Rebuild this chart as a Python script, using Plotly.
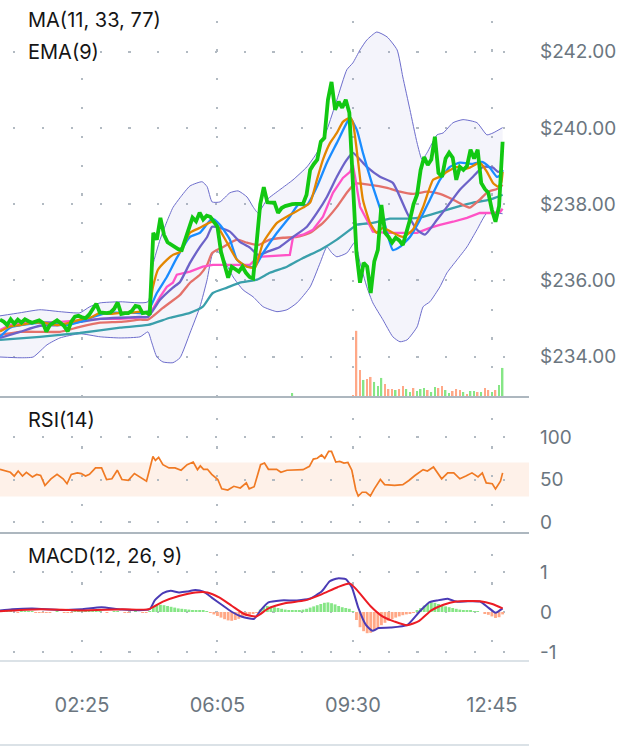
import plotly.graph_objects as go

# ------------------------------------------------------------------ data
time_ticks = [23, 61, 99, 138]
time_labels = ["02:25", "06:05", "09:30", "12:45"]
price_ticks = [234, 236, 238, 240, 242]

# close price, one value per bar (bars 0..141)
close = [
    234.97, 234.92, 234.83, 234.98, 234.86, 234.97, 234.89, 234.98, 234.93, 234.89,
    234.92, 234.95, 234.89, 234.66, 234.83, 234.90, 234.95, 234.88, 234.80, 234.66,
    234.92, 235.05, 235.07, 235.03, 235.01, 235.10, 235.27, 235.39, 235.16, 235.15,
    235.14, 235.16, 235.25, 235.42, 235.12, 235.14, 235.14, 235.20, 235.33, 235.31,
    235.14, 235.16, 235.10, 237.25, 237.07, 237.64, 237.20, 237.00, 236.93, 236.88,
    236.82, 236.80, 237.10, 237.41, 237.65, 237.55, 237.78, 237.60, 237.70, 237.67,
    237.55, 237.41, 236.75, 236.40, 236.07, 236.36, 236.30, 236.23, 236.36, 236.20,
    236.09, 236.05, 237.00, 238.00, 238.45, 238.05, 238.04, 238.04, 237.77, 237.90,
    237.95, 237.98, 238.00, 238.01, 238.01, 238.01, 238.25, 238.90, 239.05, 239.17,
    239.64, 239.74, 240.74, 241.21, 240.48, 240.69, 240.53, 240.74, 240.40, 238.60,
    236.72, 235.94, 236.46, 236.36, 235.67, 236.50, 236.80, 237.98, 237.25, 237.14,
    236.99, 237.12, 237.05, 236.93, 237.25, 237.59, 238.00, 238.25, 238.90, 239.24,
    239.03, 239.17, 239.77, 238.82, 238.72, 239.20, 239.35, 239.22, 238.64, 238.98,
    238.90, 239.00, 239.43, 239.20, 239.43, 238.56, 238.40, 238.30, 237.85, 237.54,
    237.95, 239.64,
]

# EMA(9) - orange
ema9_bar = [0, 2.8, 5.6, 9.3, 12.1, 16.0, 19.6, 22.4, 25.2, 28.1, 30.9, 33.7, 36.5, 39.3, 41.5,
            42.9, 44.3, 46.8, 48.5, 50.5, 53.3, 56.1, 59.5, 61.1, 63.7, 66.5, 69.3, 71.5, 73.8, 77.7,
            81.3, 85.0, 87.0, 88.9, 90.6, 92.6, 94.5, 96.2, 98.2, 99.0, 100.4, 101.8, 103.8, 105.7,
            107.4, 110.2, 113.0, 115.8, 118.7, 121.5, 123.4, 125.4, 128.2, 129.9, 131.8, 134.6, 136.6,
            138.3, 139.7, 140.6, 141.0]
ema9 = [234.66, 234.79, 234.83, 234.89, 234.89, 234.83, 234.89, 234.97, 235.02, 235.15, 235.12,
        235.15, 235.15, 235.18, 235.15, 235.83, 236.28, 236.54, 236.67, 236.75, 237.25, 237.38,
        237.54, 237.41, 236.99, 236.54, 236.36, 236.33, 236.99, 237.51, 237.72, 237.91, 238.04,
        238.64, 239.17, 239.61, 239.87, 240.16, 240.27, 240.14, 239.17, 238.12, 237.51, 237.25,
        237.38, 237.25, 237.14, 237.33, 237.93, 238.64, 238.72, 238.85, 238.98, 238.93, 238.96,
        239.09, 238.85, 238.56, 238.46, 238.56, 238.85]

# MA(11) - blue
ma11_bar = [0, 2.8, 8.4, 13.2, 18.8, 22.4, 26.1, 30.0, 33.7, 37.3, 41.2, 44.0, 46.8, 49.6, 53.3,
            56.1, 59.5, 61.7, 64.5, 66.5, 69.3, 71.5, 73.8, 77.7, 81.3, 83.6, 86.1, 88.9, 91.7, 94.5,
            97.3, 98.2, 100.1, 101.8, 104.6, 107.4, 110.2, 112.2, 115.0, 117.8, 120.6, 123.4, 126.2,
            129.0, 132.7, 135.2, 137.4, 139.4, 140.6, 141.0]
ma11 = [234.52, 234.76, 234.86, 234.89, 234.83, 234.91, 235.04, 235.15, 235.15, 235.15, 235.15,
        235.67, 236.09, 236.59, 237.14, 237.25, 237.62, 237.46, 237.07, 236.54, 236.36, 236.36,
        236.72, 237.25, 237.67, 237.98, 237.98, 238.46, 239.09, 239.61, 240.14, 240.27, 239.95,
        239.35, 238.46, 237.67, 236.80, 236.88, 237.14, 237.59, 238.12, 238.64, 238.98, 239.09,
        239.06, 239.11, 238.96, 238.72, 238.77, 238.90]

# MA(33) - slate purple
ma33_bar = [0, 5.6, 11.2, 16.8, 22.4, 28.1, 33.7, 39.3, 41.5, 44.9, 48.5, 50.5, 53.3, 56.1, 58.1,
            59.5, 61.7, 64.5, 67.3, 70.1, 72.4, 74.9, 78.5, 82.2, 86.1, 88.9, 91.7, 94.5, 97.3, 99.0,
            102.9, 106.6, 110.2, 114.2, 117.0, 119.2, 122.6, 125.4, 129.0, 132.7, 135.5, 138.3, 139.7,
            141.0]
ma33 = [234.49, 234.65, 234.81, 234.83, 234.91, 234.99, 235.02, 235.04, 235.04, 235.49, 235.81,
        235.96, 236.46, 236.88, 237.14, 237.41, 237.38, 237.28, 237.01, 236.86, 236.67, 236.75,
        236.88, 237.14, 237.41, 237.77, 238.19, 238.72, 239.17, 239.35, 238.98, 238.72, 238.56,
        237.77, 237.33, 237.20, 237.59, 237.93, 238.38, 238.72, 238.98, 238.96, 238.85, 238.90]

# salmon average
avg_red_bar = [0, 5.6, 11.2, 16.8, 22.4, 28.1, 33.7, 39.3, 41.5, 45.7, 50.5, 53.3, 56.1, 58.1, 59.5,
               62.6, 66.5, 69.3, 72.4, 75.7, 79.4, 83.3, 87.0, 90.6, 94.5, 97.3, 99.6, 103.8, 108.6,
               112.2, 115.8, 119.8, 123.4, 127.1, 129.9, 131.8, 134.6, 136.9, 139.4, 141.0]
avg_red = [234.57, 234.65, 234.65, 234.65, 234.78, 234.89, 234.91, 234.97, 234.97, 235.28, 235.62,
           235.94, 236.15, 236.41, 236.72, 236.88, 237.07, 236.99, 236.93, 237.07, 237.12, 237.14,
           237.25, 237.51, 237.93, 238.30, 238.54, 238.51, 238.43, 238.33, 238.27, 238.33, 238.27,
           238.12, 237.98, 237.91, 238.12, 238.33, 238.40, 238.51]

# pink average
avg_pink_bar = [0, 2.8, 5.6, 11.2, 16.8, 22.4, 28.1, 33.7, 39.3, 41.5, 44.9, 46.8, 48.5, 49.6, 53.3,
                56.9, 59.7, 70.1, 72.4, 81.3, 82.2, 85.0, 87.8, 90.6, 93.4, 96.2, 98.2, 99.0, 99.6,
                101.0, 102.9, 104.6, 108.6, 117.0, 120.6, 123.4, 127.1, 131.0, 134.6, 138.3, 140.3, 141.0]
avg_pink = [234.70, 234.83, 234.89, 234.89, 234.91, 234.94, 234.99, 234.99, 235.02, 235.04, 235.57,
            235.83, 235.94, 236.15, 236.23, 236.36, 236.41, 236.41, 236.62, 236.67, 237.14, 237.20,
            237.33, 237.67, 238.30, 238.69, 238.85, 239.03, 238.72, 237.93, 237.59, 237.28, 237.25,
            237.25, 237.38, 237.46, 237.54, 237.64, 237.77, 237.77, 237.80, 237.88]

# MA(77) - teal
ma77_bar = [0, 11.2, 22.4, 33.7, 41.5, 47.7, 53.3, 56.9, 59.7, 63.7, 67.3, 72.1, 75.7, 80.5, 85.0,
            89.8, 94.5, 98.2, 100.1, 104.6, 109.4, 114.2, 118.7, 123.4, 128.2, 132.7, 137.4, 141.0]
ma77 = [234.44, 234.52, 234.62, 234.76, 234.83, 235.02, 235.15, 235.31, 235.67, 235.81, 235.94,
        236.02, 236.20, 236.36, 236.59, 236.80, 237.07, 237.33, 237.46, 237.51, 237.62, 237.62,
        237.67, 237.80, 237.93, 238.04, 238.12, 238.25]

# Bollinger bands
bb_up_bar = [0, 5.6, 11.2, 16.8, 22.4, 25.2, 28.1, 33.7, 41.5, 42.9, 44.9, 46.8, 48.5, 50.5, 53.3,
             56.7, 58.1, 59.5, 61.7, 64.5, 66.8, 69.3, 71.0, 72.4, 74.9, 78.5, 82.2, 86.1, 88.9, 91.7,
             94.5, 97.3, 99.0, 101.0, 102.9, 105.7, 108.6, 111.4, 113.0, 115.0, 117.0, 118.4, 119.8,
             122.6, 124.3, 127.1, 129.9, 133.8, 136.6, 138.3, 141.0]
bb_up = [235.07, 235.15, 235.23, 235.18, 235.15, 235.31, 235.41, 235.44, 235.44, 236.41, 237.07,
         237.54, 237.91, 238.17, 238.48, 238.59, 238.46, 238.06, 238.06, 238.30, 238.35, 238.19,
         237.93, 237.77, 238.12, 238.38, 238.64, 238.98, 239.35, 239.95, 240.74, 241.53, 241.71,
         242.05, 242.31, 242.52, 242.39, 242.05, 241.34, 240.48, 239.61, 239.17, 239.35, 239.82,
         239.87, 240.14, 240.22, 240.14, 239.82, 239.87, 240.01]
bb_lo_bar = [0, 5.6, 9.3, 13.2, 16.8, 22.4, 28.1, 33.7, 39.3, 41.5, 42.6, 44.0, 45.7, 48.5, 50.5,
             53.3, 56.1, 58.1, 59.5, 60.6, 62.6, 65.4, 68.2, 71.0, 73.8, 77.7, 80.5, 83.3, 87.0, 89.8,
             91.7, 93.1, 94.5, 97.3, 99.6, 101.0, 102.9, 104.6, 107.4, 110.2, 112.2, 114.2, 117.0,
             118.7, 120.6, 123.4, 125.4, 128.2, 131.0, 133.8, 136.6, 139.4, 141.0]
bb_lo = [233.99, 233.97, 233.99, 234.31, 234.49, 234.60, 234.52, 234.49, 234.52, 234.65, 234.36,
         233.99, 233.86, 233.84, 233.97, 234.62, 235.31, 236.02, 236.67, 236.80, 236.59, 236.09,
         235.75, 235.57, 235.31, 235.18, 235.23, 235.41, 235.83, 236.46, 236.88, 236.72, 236.62,
         236.72, 237.01, 236.46, 235.83, 235.41, 234.97, 234.52, 234.39, 234.44, 234.78, 235.31,
         235.44, 235.83, 236.20, 236.54, 236.88, 237.33, 237.77, 237.77, 237.75]

# volume (thousands), bars 82..141 ; 1 = up (green), 0 = down (orange)
vol_first_bar = 82
volume = [80, 20, 20, 20, 20, 20, 20, 20, 20, 20, 20, 20, 20, 20, 20, 20, 20, 40,
          1320, 540, 340, 360, 400, 300, 220, 380, 260, 160, 160, 140, 160, 220, 160, 100,
          180, 120, 160, 180, 140, 100, 200, 180, 220, 140, 80, 120, 160, 140, 100, 60,
          120, 120, 100, 100, 180, 140, 100, 140, 240, 580]
vol_up = [1, 0, 0, 1, 1, 0, 1, 1, 0, 0, 1, 0, 1, 0, 1, 1, 0, 0,
          0, 0, 1, 0, 0, 1, 1, 1, 0, 0, 0, 1, 0, 0, 1, 1,
          0, 1, 1, 1, 0, 1, 1, 0, 0, 1, 1, 0, 0, 0, 1, 0,
          1, 1, 0, 1, 0, 0, 1, 0, 1, 1]

# RSI(14)
rsi_bar = [0.0, 1.7, 2.9, 4.0, 5.1, 6.3, 7.4, 9.1, 10.3, 11.4, 12.6, 14.3, 16.0, 17.7, 18.8, 20.0,
           21.7, 22.8, 24.0, 25.1, 26.8, 28.5, 29.9, 31.4, 32.9, 34.2, 36.0, 37.7, 39.4, 41.1,
           42.9, 43.6, 44.5, 45.7, 47.4, 49.1, 50.8, 52.5, 54.2, 55.4, 56.2, 57.1, 58.2, 59.4,
           61.1, 62.2, 63.9, 65.6, 67.4, 69.1, 69.9, 71.3, 73.1, 74.2, 75.3, 77.6, 78.8, 80.5,
           85.0, 86.8, 87.9, 89.0, 90.2, 91.1, 92.2, 93.0, 94.2, 95.3, 96.5, 97.6, 98.7, 99.8,
           100.5, 101.6, 102.7, 103.9, 105.0, 106.7, 107.9, 109.6, 110.7, 113.0, 114.7, 116.4,
           118.7, 119.9, 121.6, 123.9, 125.6, 127.3, 129.0, 130.7, 132.4, 134.1, 135.3, 136.4,
           138.1, 139.0, 140.4, 141.0]
rsi = [62, 60, 58.5, 54, 60, 54, 58.5, 53, 56, 54.7, 43, 50.8, 56, 50.8, 45, 56, 57.8, 57, 54,
       56, 63.6, 63.6, 50, 50.8, 60.9, 50, 49, 57, 53, 48, 77, 72.5, 76, 67.4, 63.6, 63.6, 60.9,
       67.4, 70.5, 61.6, 66, 62, 62, 56, 50, 39, 37.6, 42, 40, 46, 39, 41.5, 67.4, 69.4, 62, 62,
       58.5, 60.9, 61.6, 65.5, 74, 75, 79, 75, 83, 83, 70.5, 71.3, 69.4, 70, 60.9, 38, 30.6, 35,
       35, 30.6, 39, 50, 44, 43.4, 43, 44, 48.8, 54.7, 61.6, 60, 64.7, 50.8, 57.8, 57.8, 50.8, 54,
       57.8, 53, 57.8, 46, 45, 39, 48, 57.8]
rsi_band = [30, 70]

# MACD(12, 26, 9)
macd_bar = [0, 3.4, 9.1, 17.1, 22.8, 28.5, 34.2, 42.0, 43.4, 45.7, 47.9, 50.2, 52.5, 54.8, 57.1,
            59.4, 62.2, 65.1, 67.9, 71.3, 73.1, 75.3, 78.8, 83.3, 86.8, 90.2, 92.5, 94.7, 97.0,
            98.7, 100.5, 102.7, 104.5, 106.2, 109.6, 114.2, 117.6, 120.4, 122.7, 125.6, 127.9,
            131.3, 134.7, 137.0, 139.0, 141.0]
macd = [0.04, 0.07, 0.09, 0.05, 0.07, 0.12, 0.06, 0.07, 0.29, 0.47, 0.53, 0.49, 0.51, 0.55, 0.51,
        0.36, 0.18, 0.0, -0.12, -0.17, 0.04, 0.24, 0.29, 0.29, 0.33, 0.51, 0.77, 0.84, 0.82, 0.62,
        0.11, -0.33, -0.47, -0.40, -0.39, -0.33, 0.0, 0.24, 0.29, 0.33, 0.26, 0.27, 0.26, 0.11,
        -0.02, 0.09]
signal_bar = [0, 11.4, 22.8, 34.2, 41.7, 45.7, 50.2, 54.8, 58.2, 61.6, 65.1, 68.5, 71.9, 75.3,
              79.9, 85.6, 90.2, 94.7, 98.2, 100.5, 103.9, 107.3, 110.7, 114.2, 117.6, 121.0, 124.4,
              127.9, 134.7, 138.1, 141.0]
signal = [0.02, 0.07, 0.04, 0.07, 0.07, 0.26, 0.40, 0.49, 0.49, 0.36, 0.15, -0.05, -0.11, 0.09,
          0.22, 0.29, 0.44, 0.62, 0.71, 0.51, 0.15, -0.11, -0.24, -0.33, -0.22, 0.04, 0.18, 0.26,
          0.27, 0.20, 0.09]
# histogram, one per bar (0..141)
hist = [
    0.01, 0.01, 0.02, 0.01, 0.00, -0.01, 0.01, 0.01, 0.02, 0.01,
    -0.01, -0.01, -0.02, -0.02, -0.01, 0.00, 0.01, 0.00, -0.01, -0.02,
    -0.01, 0.01, 0.02, 0.02, 0.01, 0.02, 0.03, 0.03, 0.01, 0.00,
    -0.01, 0.00, 0.01, 0.02, 0.00, -0.01, -0.01, 0.00, 0.01, 0.00,
    -0.01, -0.01, 0.02, 0.12, 0.17, 0.18, 0.17, 0.15, 0.13, 0.11,
    0.09, 0.08, 0.07, 0.06, 0.05, 0.04, 0.04, 0.03, 0.01, -0.02,
    -0.06, -0.10, -0.14, -0.18, -0.21, -0.22, -0.20, -0.17, -0.13, -0.10,
    -0.07, -0.05, -0.02, 0.06, 0.12, 0.15, 0.14, 0.12, 0.10, 0.08,
    0.06, 0.04, 0.03, 0.03, 0.04, 0.06, 0.08, 0.11, 0.14, 0.17,
    0.20, 0.23, 0.24, 0.22, 0.19, 0.15, 0.12, 0.10, 0.08, 0.02,
    -0.20, -0.38, -0.48, -0.53, -0.52, -0.47, -0.40, -0.33, -0.27, -0.22,
    -0.18, -0.14, -0.11, -0.08, -0.06, -0.04, -0.02, 0.03, 0.10, 0.16,
    0.21, 0.24, 0.23, 0.20, 0.17, 0.14, 0.12, 0.10, 0.08, 0.06,
    0.05, 0.04, 0.03, 0.02, 0.01, 0.00, -0.03, -0.07, -0.11, -0.15,
    -0.13, -0.06,
]

# ------------------------------------------------------------------ style
UP = "#86e686"
DOWN = "#ffa887"
GRID = "#b2bac2"
TXT = "#6b7680"
FONT = "Inter"
H = 661.0  # plot-area height in px
D_MACD = [0.0, 128 / H]
D_RSI = [128 / H, 264 / H]
D_MAIN = [264 / H, 1.0]
X_RANGE = [0, 148.4]
grid_h = "0px,13.2px,2.2px,13.4px"
grid_v = "0px,20.6px,2.2px,6px"

bars = list(range(len(close)))
fig = go.Figure()

# Bollinger band
fig.add_trace(go.Scatter(x=bb_lo_bar, y=bb_lo, mode="lines",
                         line=dict(color="#6d6dcc", width=1, shape="spline", smoothing=0.5),
                         xaxis="x", yaxis="y"))
fig.add_trace(go.Scatter(x=bb_up_bar, y=bb_up, mode="lines", fill="tonexty",
                         fillcolor="rgba(110,110,200,0.08)",
                         line=dict(color="#6d6dcc", width=1, shape="spline", smoothing=0.5),
                         xaxis="x", yaxis="y"))

line_specs = [
    (ma77_bar, ma77, "#3a9fab", "spline"),
    (avg_red_bar, avg_red, "#e4716a", "spline"),
    (avg_pink_bar, avg_pink, "#ff52c6", "linear"),
    (ma33_bar, ma33, "#6c62c8", "spline"),
    (ma11_bar, ma11, "#1a8cff", "spline"),
    (ema9_bar, ema9, "#e38600", "spline"),
]
for xs, ys, col, shp in line_specs:
    fig.add_trace(go.Scatter(x=xs, y=ys, mode="lines",
                             line=dict(color=col, width=2.3, shape=shp, smoothing=0.5),
                             xaxis="x", yaxis="y"))

fig.add_trace(go.Scatter(x=bars, y=close, mode="lines",
                         line=dict(color="#12c812", width=3.8), xaxis="x", yaxis="y"))

# volume
vol_x = [vol_first_bar + k for k in range(len(volume))]
fig.add_trace(go.Bar(x=vol_x, y=volume, width=0.45,
                     marker=dict(color=[UP if u else DOWN for u in vol_up], line=dict(width=0)),
                     xaxis="x", yaxis="y4"))

# RSI
fig.add_shape(type="rect", xref="x2 domain", yref="y2", x0=0, x1=1,
              y0=rsi_band[0], y1=rsi_band[1], fillcolor="rgba(250,160,110,0.15)",
              line=dict(width=0), layer="below")
fig.add_trace(go.Scatter(x=rsi_bar, y=rsi, mode="lines",
                         line=dict(color="#f07a24", width=1.7), xaxis="x2", yaxis="y2"))

# MACD
fig.add_trace(go.Bar(x=bars, y=hist, width=0.8,
                     marker=dict(color=[UP if v >= 0 else DOWN for v in hist], line=dict(width=0)),
                     xaxis="x3", yaxis="y3"))
fig.add_trace(go.Scatter(x=macd_bar, y=macd, mode="lines",
                         line=dict(color="#4a3bb5", width=2, shape="spline", smoothing=0.5),
                         xaxis="x3", yaxis="y3"))
fig.add_trace(go.Scatter(x=signal_bar, y=signal, mode="lines",
                         line=dict(color="#ec1c24", width=2, shape="spline", smoothing=0.6),
                         xaxis="x3", yaxis="y3"))

xcommon = dict(range=X_RANGE, showgrid=True, gridcolor=GRID, gridwidth=2, griddash=grid_v,
               tickvals=time_ticks, ticktext=time_labels, zeroline=False, showline=False,
               ticks="", tickfont=dict(family=FONT, size=20, color=TXT))
ycommon = dict(side="right", showgrid=True, gridcolor=GRID, gridwidth=2, griddash=grid_h,
               zeroline=False, showline=False, ticks="", ticklabelstandoff=10,
               tickfont=dict(family=FONT, size=19, color=TXT))

price_text = ["$%.2f" % v for v in price_ticks]

fig.update_layout(
    width=640, height=747, margin=dict(l=0, r=111, t=0, b=86),
    paper_bgcolor="white", plot_bgcolor="white", showlegend=False,
    barmode="overlay",
    xaxis=dict(**xcommon, domain=[0, 1], anchor="y", showticklabels=False),
    xaxis2=dict(**xcommon, domain=[0, 1], anchor="y2", matches="x", showticklabels=False),
    xaxis3=dict(**xcommon, domain=[0, 1], anchor="y3", matches="x", showticklabels=True,
                ticklabelstandoff=30),
    yaxis=dict(**ycommon, domain=D_MAIN, range=[232.94, 243.36], tickvals=price_ticks,
               ticktext=price_text),
    yaxis4=dict(overlaying="y", anchor="x", range=[0, 7920], visible=False, showgrid=False),
    yaxis2=dict(**ycommon, domain=D_RSI, range=[-12.94, 147.06], tickvals=[0, 50, 100],
                anchor="x2"),
    yaxis3=dict(**ycommon, domain=D_MACD, range=[-1.225, 1.975], tickvals=[-1, 0, 1],
                ticktext=["-1", "0", "1"], anchor="x3"),
)
fig.update_yaxes(tickfont=dict(family=FONT, size=20, color=TXT), selector=dict(anchor="x"))

# panel separators
for ypx, col, w in [(397, "#adb7bf", 2), (533, "#adb7bf", 2), (661, "#dbe2e7", 2), (745, "#dbe2e7", 2)]:
    fig.add_shape(type="line", xref="paper", yref="paper", x0=0, x1=1,
                  y0=(H - ypx) / H, y1=(H - ypx) / H, line=dict(color=col, width=w))

labels = [("MA(11, 33, 77)", 20), ("EMA(9)", 52), ("RSI(14)", 420), ("MACD(12, 26, 9)", 556)]
for txt, ypx in labels:
    fig.add_annotation(text=txt, xref="paper", yref="paper", x=27 / 529, y=(H - ypx) / H,
                       xanchor="left", yanchor="middle", showarrow=False, bgcolor="white",
                       borderpad=0, font=dict(family=FONT, size=20, color="#151515"))

fig.write_html("out.html")
